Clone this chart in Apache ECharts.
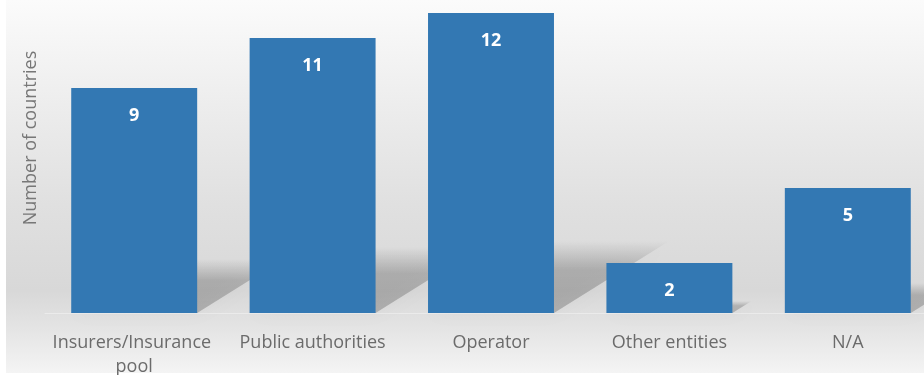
<!DOCTYPE html>
<html>
<head>
<meta charset="utf-8">
<script src="https://cdn.jsdelivr.net/npm/echarts@6/dist/echarts.min.js"></script>
<style>
html,body{margin:0;padding:0;background:#fff;}
#c{width:924px;height:375px;}
</style>
</head>
<body>
<div id="c"></div>
<script>
const categories = ["Insurers/Insurance pool", "Public authorities", "Operator", "Other entities", "N/A"];
const values = [9, 11, 12, 2, 5];
const yAxisTitle = "Number of countries";

const chart = echarts.init(document.getElementById('c'));
const font = '"Open Sans", "Noto Sans", sans-serif';

function shadowItem(params, api) {
  const idx = api.value(0);
  const v = api.value(1);
  const base = api.coord([idx, 0]);
  const top = api.coord([idx, v]);
  const band = api.size([1, 0])[0];
  const bw = band * 0.706;
  const x0 = base[0] - bw / 2, x1 = base[0] + bw / 2;
  const h = base[1] - top[1];
  const sh = h * 0.24;
  const dx = sh * 1.6;
  return {
    type: 'polygon',
    shape: { points: [[x0, base[1]], [x1, base[1]], [x1 + dx, base[1] - sh], [x0 + dx, base[1] - sh]] },
    style: {
      fill: new echarts.graphic.LinearGradient(0, 0, 0, 1, [
        { offset: 0, color: 'rgba(0,0,0,0)' },
        { offset: 0.4, color: 'rgba(0,0,0,0.19)' },
        { offset: 1, color: 'rgba(0,0,0,0.21)' }
      ]),
      shadowBlur: 18,
      shadowColor: 'rgba(0,0,0,0.15)'
    },
    z2: 0
  };
}

chart.setOption({
  animation: false,
  graphic: [{
    type: 'rect', z: -10, silent: true,
    shape: { x: 6, y: 0, width: 918, height: 373 },
    style: {
      fill: new echarts.graphic.LinearGradient(0, 0, 0, 1, [
        { offset: 0, color: '#fbfbfb' },
        { offset: 0.3, color: '#ececec' },
        { offset: 0.55, color: '#e0e0e0' },
        { offset: 0.78, color: '#d8d8d8' },
        { offset: 0.88, color: '#e4e4e4' },
        { offset: 1, color: '#f4f4f4' }
      ])
    }
  }],
  grid: { left: 45, top: 13, width: 892, bottom: 62, containLabel: false, outerBoundsMode: 'none' },
  xAxis: {
    type: 'category',
    data: categories,
    axisLine: { show: true, lineStyle: { color: '#ebebeb', width: 1 } },
    axisTick: { show: false },
    axisLabel: {
      interval: 0, hideOverlap: false,
      margin: 18,
      color: '#6b6b6b', fontFamily: font, fontSize: 18, lineHeight: 24,
      width: 170, overflow: 'break'
    }
  },
  yAxis: {
    type: 'value', min: 0, max: 12,
    axisLine: { show: false }, axisTick: { show: false },
    axisLabel: { show: false }, splitLine: { show: false },
    name: yAxisTitle, nameLocation: 'middle', nameGap: 5,
    nameTextStyle: { color: '#777777', fontFamily: font, fontSize: 18, padding: [0, 0, 0, 50] }
  },
  series: [{
    type: 'custom',
    renderItem: shadowItem,
    data: values.map((v, i) => [i, v]),
    z: 1, silent: true
  }, {
    type: 'bar',
    data: values,
    barWidth: '70.6%',
    itemStyle: { color: '#3378b3' },
    z: 2,
    label: {
      show: true, position: 'insideTop', distance: 19,
      color: '#ffffff', fontFamily: font, fontWeight: 'bold', fontSize: 18
    }
  }]
});
</script>
</body>
</html>
